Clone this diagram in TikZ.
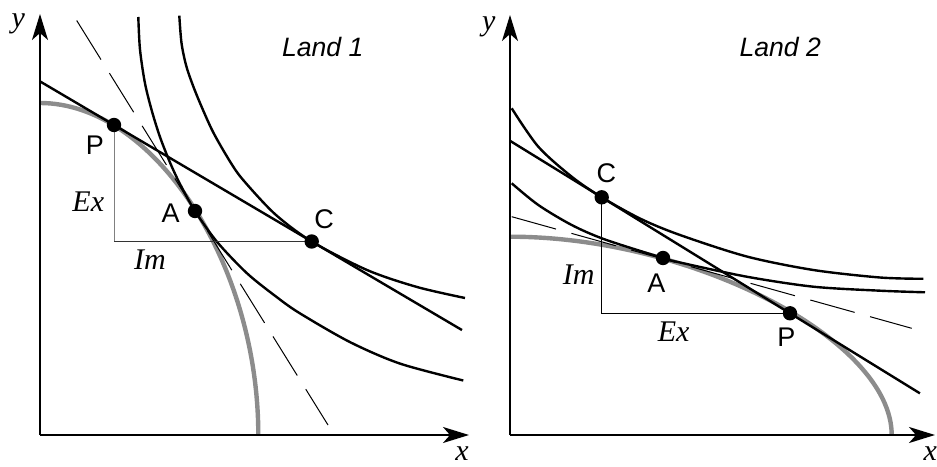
\documentclass[tikz,border=0pt]{standalone}
\usepackage{fontspec}
\setmainfont{Liberation Serif}
\newfontfamily\arialfont{Liberation Sans}
\usetikzlibrary{arrows.meta,calc}

\begin{document}
\begin{tikzpicture}[x=0.5pt,y=0.5pt,
  axis/.style={line width=1pt,-{Stealth[length=13pt,width=8pt,inset=3.5pt]}},
  curve/.style={line width=1.2pt},
  ppf/.style={line width=2.2pt,black!45},
  guide/.style={line width=0.5pt,dash pattern=on 23pt off 8pt},
  side/.style={line width=0.5pt},
  lbl/.style={font=\arialfont\fontsize{13.5}{15}\selectfont},
  land/.style={font=\arialfont\itshape\fontsize{13.3}{15}\selectfont},
  var/.style={font=\itshape\fontsize{15}{17}\selectfont}]
\useasboundingbox (0,0) rectangle (937,466);

%Land 1
\begin{scope}[shift={(40,31)}]
 \coordinate (P1) at (74,310);
 \coordinate (A1) at (155,224);
 \coordinate (C1) at (271.7,193.5);
 % ppf
 \draw[ppf] (0,332) .. controls (113.5,332) and (218.3,172.6) .. (218.3,0);
 % autarky price
 \draw[guide] (36.7,414.5) -- (288,10);
 % indifference curves
 \draw[curve] plot[smooth] coordinates {(98.3,418) (100,385.4) (105,351.6) (112,323.6) (120,298) (130,272.5)
   (140,251) (155,224) (177,193.2) (207,161.7) (237,137.7) (260,121.6) (310,92.9) (360,71.4) (423.3,54.5)};
 \draw[curve] plot[smooth] coordinates {(139.3,419.3) (141.5,392) (146,370) (152,352) (160,332) (173,303.1)
   (190,273.5) (203,255.2) (235,220.9) (271.7,193.5) (327,165) (377,148) (425,137)};
 % world price
 \draw[curve] ($(P1)!-0.374!(C1)$) -- ($(P1)!1.76!(C1)$);
 % trade triangle
 \draw[side,black!50] (P1) -- (P1 |- C1);
 \draw[side,black!80] (P1 |- C1) -- (C1);
 \draw[axis] (0,0) -- (0,421);
 \draw[axis] (0,0) -- (429,0);
 \fill (P1) circle (3.6pt);
 \fill (A1) circle (3.6pt);
 \fill (C1) circle (3.6pt);
 \node[var] (y1) at (-21.7,411) {y};
 \node[var] (x1) at (422,-19) {x};
 \node[land] (land1) at (282.7,388.3) {Land 1};
 \node[lbl] (labP1) at (55,290) {P};
 \node[lbl] (labA1) at (130.7,221.7) {A};
 \node[lbl] (labC1) at (284,215.7) {C};
 \node[var] (ex1) at (48.3,233.3) {Ex};
 \node[var] (im1) at (110,175) {Im};
\end{scope}

%Land 2
\begin{scope}[shift={(510,31)}]
 \coordinate (P2) at (280,121.7);
 \coordinate (A2) at (153,177);
 \coordinate (C2) at (91.7,237.7);
 % ppf
 \draw[ppf] (0,198.3) .. controls (183.2,198.3) and (381.7,95.2) .. (381.7,0);
 % autarky price
 \draw[guide] (1.7,218.3) -- (401.7,106.7);
 % indifference curves
 \draw[curve] plot[smooth] coordinates {(1.7,326.7) (28.3,288.3) (61.7,258.3) (91.7,237.7) (131,216)
   (170,200) (236.7,178.5) (303.3,165) (370,157.5) (413.3,156.2)};
 \draw[curve] plot[smooth] coordinates {(1.7,251.7) (28.3,230) (61.7,210) (95,195.5) (153,177)
   (170,172.5) (236.7,158.3) (303.3,148.3) (370,144.3) (415,142.7)};
 % world price
 \draw[curve] ($(C2)!-0.487!(P2)$) -- ($(C2)!1.69!(P2)$);
 % trade triangle
 \draw[side] (C2) -- (C2 |- P2) -- (P2);
 \draw[axis] (0,0) -- (0,420);
 \draw[axis] (0,0) -- (425,0);
 \fill (P2) circle (3.6pt);
 \fill (A2) circle (3.6pt);
 \fill (C2) circle (3.6pt);
 \node[var] (y2) at (-21.3,408.3) {y};
 \node[var] (x2) at (420.3,-19) {x};
 \node[land] (land2) at (270.3,388.3) {Land 2};
 \node[lbl] (labC2) at (96.3,261.7) {C};
 \node[lbl] (labA2) at (146.3,151.7) {A};
 \node[lbl] (labP2) at (276.3,97.7) {P};
 \node[var] (im2) at (68.7,160) {Im};
 \node[var] (ex2) at (163.7,103.3) {Ex};
\end{scope}
\end{tikzpicture}
\end{document}
